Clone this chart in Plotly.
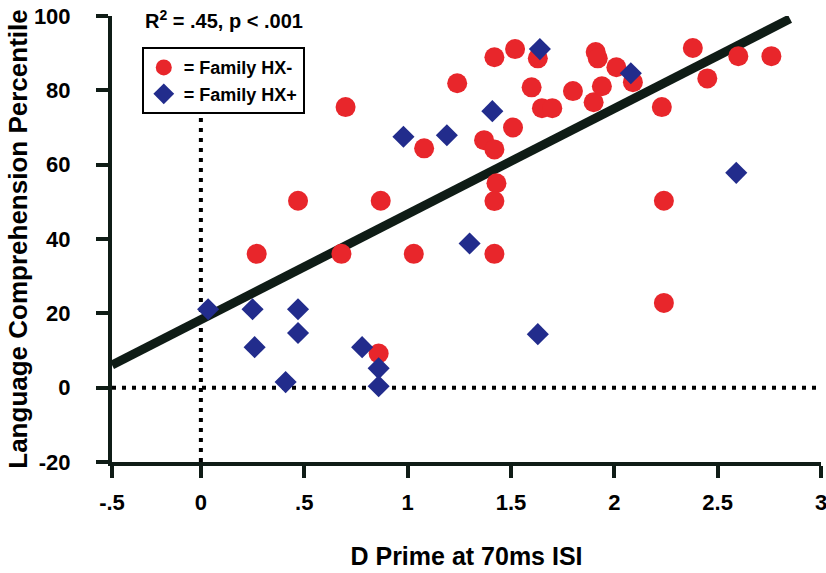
import plotly.graph_objects as go

# ---- data ----
red_x = [0.27, 0.47, 0.68, 0.70, 0.87, 0.86, 1.03, 1.08, 1.24, 1.37, 1.42, 1.42,
         1.43, 1.42, 1.42, 1.51, 1.52, 1.60, 1.63, 1.65, 1.70, 1.80, 1.90, 1.91,
         1.92, 1.94, 2.01, 2.09, 2.23, 2.24, 2.24, 2.38, 2.45, 2.60, 2.76]
red_y = [36, 50.3, 36, 75.5, 50.3, 9.2, 36, 64.4, 81.9, 66.6, 88.9, 64.1,
         55, 50.2, 36, 70, 91.1, 80.8, 88.6, 75.2, 75.2, 79.8, 76.8, 90.3,
         88.6, 81.1, 86.2, 82.2, 75.5, 50.3, 22.8, 91.4, 83.2, 89.2, 89.2]

blue_x = [0.035, 0.25, 0.26, 0.41, 0.47, 0.47, 0.78, 0.86, 0.86, 0.98, 1.19,
          1.30, 1.41, 1.63, 1.64, 2.08, 2.59]
blue_y = [21.1, 21.1, 10.9, 1.5, 21.1, 14.7, 10.9, 5.2, 0.4, 67.5, 67.9,
          38.8, 74.4, 14.4, 91.1, 84.6, 57.8]

fit_intercept = 18.3
fit_slope = 28.4
fit_x_end = 2.85

x_tick_vals = [-0.43, 0, 0.5, 1, 1.5, 2, 2.5, 3]
x_tick_text = ["-.5", "0", ".5", "1", "1.5", "2", "2.5", "3"]
y_tick_vals = [-20, 0, 20, 40, 60, 80, 100]
y_tick_text = ["-20", "0", "20", "40", "60", "80", "100"]

X_MIN, X_MAX = -0.43, 3.0
Y_MIN, Y_MAX = -20, 100
V_LINE_TOP = 74  # the dotted x=0 line stops under the legend box

legend_names = ["= Family HX-", "= Family HX+"]
stat_text = "R<sup>2</sup> = .45, p &lt; .001"
x_title = "D Prime at 70ms ISI"
y_title = "Language Comprehension Percentile"

RED = "#E8262B"
BLUE = "#222C8C"
DARK = "#0F1C16"
FONT = "Liberation Sans, Arial, Helvetica, sans-serif"

fit_x = [X_MIN, fit_x_end]
fit_y = [fit_intercept + fit_slope * v for v in fit_x]

fig = go.Figure()
fig.add_trace(go.Scatter(x=fit_x, y=fit_y, mode="lines",
                         line=dict(color=DARK, width=9), showlegend=False,
                         hoverinfo="skip"))
fig.add_trace(go.Scatter(x=red_x, y=red_y, mode="markers", name=legend_names[0],
                         marker=dict(symbol="circle", size=20, color=RED,
                                     line=dict(width=0))))
fig.add_trace(go.Scatter(x=blue_x, y=blue_y, mode="markers", name=legend_names[1],
                         marker=dict(symbol="diamond", size=17, color=BLUE,
                                     line=dict(width=0))))

# dotted reference lines at x=0 and y=0
fig.add_shape(type="line", x0=0, x1=0, y0=Y_MIN, y1=V_LINE_TOP, layer="below",
              line=dict(color="black", width=4, dash="4px,6px"))
fig.add_shape(type="line", x0=X_MIN, x1=X_MAX, y0=0, y1=0, layer="below",
              line=dict(color="black", width=4, dash="4px,6px"))

fig.add_annotation(x=-0.28, y=99, xref="x", yref="y", xanchor="left",
                   yanchor="middle", text=stat_text, showarrow=False,
                   font=dict(family=FONT, size=20, color="black", weight="bold"))

fig.update_xaxes(range=[X_MIN, X_MAX], tickvals=x_tick_vals, ticktext=x_tick_text,
                 showgrid=False, zeroline=False, showline=True, linecolor=DARK,
                 linewidth=4, ticks="outside", ticklen=12, tickwidth=4,
                 tickcolor=DARK, ticklabelstandoff=6, automargin=False,
                 ticklabeloverflow="allow",
                 tickfont=dict(family=FONT, size=22, color="black", weight="bold"),
                 title=dict(text=x_title, standoff=34,
                            font=dict(family=FONT, size=25, color="black", weight="bold")))
fig.update_yaxes(range=[Y_MIN, Y_MAX], tickvals=y_tick_vals, ticktext=y_tick_text,
                 showgrid=False, zeroline=False, showline=True, linecolor=DARK,
                 linewidth=4, ticks="outside", ticklen=12, tickwidth=4,
                 tickcolor=DARK, ticklabelstandoff=21, automargin=False,
                 tickfont=dict(family=FONT, size=22, color="black", weight="bold"),
                 title=dict(text=y_title, standoff=0,
                            font=dict(family=FONT, size=26, color="black", weight="bold")))

fig.update_layout(
    width=826, height=573,
    margin=dict(l=112, r=5, t=16, b=111),
    paper_bgcolor="white", plot_bgcolor="white",
    showlegend=True,
    legend=dict(x=0.042, y=0.93, xanchor="left", yanchor="top",
                bgcolor="white", bordercolor="black", borderwidth=2,
                font=dict(family=FONT, size=18, color="black", weight="bold"),
                itemwidth=30, tracegroupgap=0),
)

fig.write_html("out.html",
               config={"displayModeBar": False},
               post_script="document.body.style.margin='0';"
                           "document.body.style.overflow='hidden';")
